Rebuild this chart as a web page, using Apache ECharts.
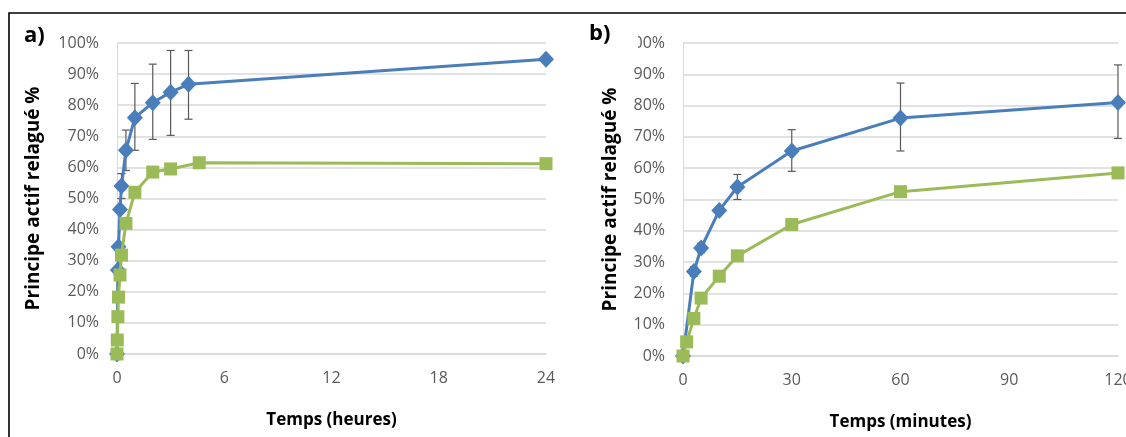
<!DOCTYPE html>
<html><head><meta charset="utf-8">
<script src="https://cdn.jsdelivr.net/npm/echarts@6/dist/echarts.min.js"></script>
<style>html,body{margin:0;padding:0;background:#fff;overflow:hidden}#c{width:1126px;height:437px}</style>
</head><body><div id="c"></div>
<script>
// ---- data ----
// panel a: time in hours
const blueA_t = [0, 0.05, 0.0833, 0.1667, 0.25, 0.5, 1, 2, 3, 4, 24];
const blueA_v = [0, 27, 34.5, 46.5, 54, 65.5, 76, 80.8, 84.2, 86.7, 94.8];
const greenA_t = [0, 0.0167, 0.05, 0.0833, 0.1667, 0.25, 0.5, 1, 2, 3, 4.6, 24];
const greenA_v = [0, 4.5, 12, 18.3, 25.4, 31.8, 42, 52, 58.5, 59.5, 61.5, 61.2];
const errA_t = [0.25, 0.5, 1, 2, 3, 4];
const errA_lo = [50, 59, 65.5, 69, 70.3, 75.5];
const errA_hi = [58, 72, 87, 93.2, 97.6, 97.6];
// panel b: time in minutes
const blueB_t = [0, 3, 5, 10, 15, 30, 60, 120];
const blueB_v = [0, 27, 34.5, 46.5, 54, 65.5, 76, 81];
const greenB_t = [0, 1, 3, 5, 10, 15, 30, 60, 120];
const greenB_v = [0, 4.5, 12, 18.5, 25.5, 32, 42, 52.5, 58.5];
const errB_t = [3, 5, 15, 30, 60, 120];
const errB_lo = [25.5, 33, 50, 59, 65.5, 69.5];
const errB_hi = [28.5, 36, 58, 72.3, 87.2, 93];
const xTitleA = 'Temps (heures)';
const xTitleB = 'Temps (minutes)';
const yTitle = 'Principe actif relagué %';

const zip = (a, b) => a.map((v, i) => [v, b[i]]);
const BLUE = '#4a7ebb', GREEN = '#9bbb59', GRID = '#d9d9d9', LBL = '#595959';
const FONT = '"Open Sans", sans-serif';

function errSeries(idx, t, lo, hi) {
  return {
    type: 'custom', xAxisIndex: idx, yAxisIndex: idx, z: 3,
    data: t.map((x, i) => [x, lo[i], hi[i]]),
    renderItem: (params, api) => {
      const top = api.coord([api.value(0), api.value(2)]);
      const bot = api.coord([api.value(0), api.value(1)]);
      const w = 4;
      const st = { stroke: '#595959', lineWidth: 1.2 };
      return { type: 'group', children: [
        { type: 'line', shape: { x1: top[0], y1: top[1], x2: bot[0], y2: bot[1] }, style: st },
        { type: 'line', shape: { x1: top[0] - w, y1: top[1], x2: top[0] + w, y2: top[1] }, style: st },
        { type: 'line', shape: { x1: bot[0] - w, y1: bot[1], x2: bot[0] + w, y2: bot[1] }, style: st }
      ]};
    }
  };
}
function lineSeries(idx, data, color, symbol, size, z) {
  return {
    type: 'line', xAxisIndex: idx, yAxisIndex: idx, data: data, z: z,
    symbol: symbol, symbolSize: size, showAllSymbol: true,
    lineStyle: { color: color, width: 3 },
    itemStyle: { color: color, borderWidth: 0 },
    animation: false
  };
}
function yAxis(idx, gap) {
  return {
    type: 'value', gridIndex: idx, min: 0, max: 100, interval: 10,
    axisLine: { show: true, lineStyle: { color: GRID, width: 1 } },
    axisTick: { show: false },
    splitLine: { lineStyle: { color: GRID, width: 1.5 } },
    axisLabel: { formatter: v => v + '%', color: LBL, fontFamily: FONT, fontSize: 16, margin: 18 },
    name: yTitle, nameLocation: 'middle', nameGap: gap, nameRotate: 90,
    nameTextStyle: { color: '#000', fontFamily: FONT, fontSize: 19, fontWeight: 'bold' }
  };
}
function xAxis(idx, max, interval, title) {
  return {
    type: 'value', gridIndex: idx, min: 0, max: max, interval: interval,
    axisLine: { show: true, onZero: false, lineStyle: { color: GRID, width: 1.5 } },
    axisTick: { show: false }, splitLine: { show: false },
    axisLabel: { color: LBL, fontFamily: FONT, fontSize: 16, margin: 16 },
    name: title, nameLocation: 'middle', nameGap: 58,
    nameTextStyle: { color: '#000', fontFamily: FONT, fontSize: 17, fontWeight: 'bold' }
  };
}

const chart = echarts.init(document.getElementById('c'), null, { renderer: 'canvas' });
chart.setOption({
  animation: false,
  backgroundColor: '#fff',
  grid: [
    { left: 117, top: 43, width: 429, height: 311, outerBoundsMode: 'none', containLabel: false },
    { left: 683, top: 43, width: 435, height: 313, outerBoundsMode: 'none', containLabel: false }
  ],
  xAxis: [xAxis(0, 24, 6, xTitleA), xAxis(1, 120, 30, xTitleB)],
  yAxis: [yAxis(0, 74), yAxis(1, 57)],
  graphic: [
    { type: 'polyline', shape: { points: [[9, 440], [9, 13], [1130, 13]] }, style: { stroke: '#000', lineWidth: 1.6, fill: null }, z: 10 },
    { type: 'rect', shape: { x: 612, y: 32, width: 26, height: 22 }, style: { fill: '#fff' }, z: 20 },
    { type: 'text', left: 24, top: 25, style: { text: 'a)', font: 'bold 22px "Open Sans", sans-serif', fill: '#000' }, z: 21 },
    { type: 'text', left: 589, top: 23, style: { text: 'b)', font: 'bold 22px "Open Sans", sans-serif', fill: '#000' }, z: 21 }
  ],
  series: [
    errSeries(0, errA_t, errA_lo, errA_hi),
    lineSeries(0, zip(blueA_t, blueA_v), BLUE, 'diamond', [16, 17], 4),
    lineSeries(0, zip(greenA_t, greenA_v), GREEN, 'rect', 13, 5),
    errSeries(1, errB_t, errB_lo, errB_hi),
    lineSeries(1, zip(blueB_t, blueB_v), BLUE, 'diamond', [16, 17], 4),
    lineSeries(1, zip(greenB_t, greenB_v), GREEN, 'rect', 13, 5)
  ]
});
</script></body></html>
